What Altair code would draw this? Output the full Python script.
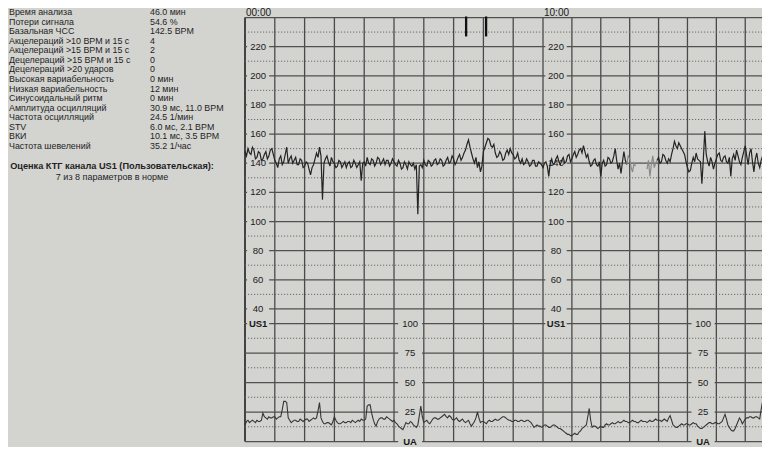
import altair as alt
import pandas as pd

BG = "#d3d3d0"
FONT = "Liberation Sans"
INK = "#242424"

# ---------------- text block (left) ----------------
param_labels = [
    "Время анализа", "Потери сигнала", "Базальная ЧСС",
    "Акцелераций >10 BPM и 15 с", "Акцелераций >15 BPM и 15 с",
    "Децелераций >15 BPM и 15 с", "Децелераций >20 ударов",
    "Высокая вариабельность", "Низкая вариабельность", "Синусоидальный ритм",
    "Амплитуда осцилляций", "Частота осцилляций", "STV", "ВКИ", "Частота шевелений",
]
param_values = [
    "46.0 мин", "54.6 %", "142.5 BPM", "4", "2", "0", "0", "0 мин", "12 мин",
    "0 мин", "30.9 мс, 11.0 BPM", "24.5 1/мин", "6.0 мс, 2.1 BPM",
    "10.1 мс, 3.5 BPM", "35.2 1/час",
]
summary_title = "Оценка КТГ канала US1 (Пользовательская):"
summary_line = "7 из 8 параметров в норме"

# ---------------- strip layout values ----------------
time_labels = ["00:00", "10:00"]
time_label_min = [0, 10]
minute_lines = list(range(0, 18))
strip_start, strip_end = 0, 17.58

fhr_top, fhr_bottom = 240, 30
fhr_major = [220, 200, 180, 160, 140, 120, 100, 80, 60, 40]
fhr_minor = [230, 210, 190, 170, 150, 130, 110, 90, 70, 50]
ua_top, ua_bottom = 100, 0
ua_major = [75, 50, 25]
ua_minor = [87.5, 62.5, 37.5, 12.5]
ua_label_vals = [100, 75, 50, 25]

fhr_label_min = [0.44, 10.45]
ua_label_min = [5.54, 15.54]
event_min = [7.42, 8.09]

# ---------------- traces (read every 0.1 min, plus the swing between samples) ----------------
sample_step = 0.1
fhr_values = [
    148, 150, 146, 149, 144, 147, 143, 148, 145, 150,
    142, 137, 145, 141, 151, 143, 140, 144, 139, 142,
    138, 140, 132, 139, 147, 151, 115, 143, 141, 144,
    140, 138, 141, 139, 137, 141, 138, 140, 139, 128,
    141, 144, 139, 142, 140, 143, 141, 139, 142, 140,
    141, 138, 140, 137, 139, 141, 138, 136, 105, 139,
    142, 138, 141, 139, 143, 140, 142, 139, 144, 141,
    143, 141, 146, 144, 149, 156, 147, 140, 137, 134,
    148, 154, 156, 151, 147, 145, 146, 143, 149, 150,
    146, 144, 142, 143, 140, 141, 139, 142, 138, 140,
    137, 141, 131, 143, 140, 145, 139, 144, 141, 146,
    143, 148, 146, 150, 152, 144, 141, 139, 143, 138,
    131, 142, 139, 143, 141, 150, 136, 133, 148, 139,
    143, 134, 138, None, None, None, 136, 131, 145, 140,
    144, 141, 145, 140, 141, 150, 152, 154, 150, 146,
    137, 135, 144, 147, 142, 126, 162, 141, 144, 136,
    143, 147, 141, 145, 140, 131, 146, 149, 141, 144,
    152, 139, 150, 134, 147, 137, 145,
]
fhr_between = [
    145, 147, 151, 143, 148, 142, 146, 143, 149, 146,
    140, 143, 139, 146, 140, 145, 142, 139, 143, 137,
    141, 136, 137, 143, 144, 145, 140, 145, 138, 141,
    137, 142, 137, 141, 140, 137, 142, 137, 141, 140,
    138, 140, 143, 138, 144, 139, 143, 142, 138, 143,
    139, 142, 136, 141, 136, 139, 140, 139, 138, 137,
    139, 142, 138, 142, 139, 143, 138, 142, 140, 145,
    139, 144, 142, 147, 153, 151, 143, 144, 141, 138,
    151, 157, 152, 153, 144, 148, 142, 147, 146, 147,
    143, 147, 140, 139, 143, 138, 142, 138, 141, 139,
    140, 138, 140, 139, 143, 141, 142, 140, 145, 141,
    146, 144, 149, 147, 148, 146, 138, 142, 139, 141,
    140, 138, 144, 140, 145, 142, 140, 141, 142, 145,
    137, 140, None, None, None, None, 142, 139, 137, 142,
    140, 146, 142, 143, 146, 155, 150, 152, 148, 141,
    134, 140, 141, 143, 141, 143, 146, 138, 141, 140,
    146, 142, 144, 141, 144, 143, 142, 145, 139, 148,
    145, 147, 141, 143, 140, 142,
]
fhr_light_spans = [(12.95, 13.25), (13.55, 13.95)]

ua_values = [
    14, 18, 17, 17, 18, 17, 24, 20, 21, 20,
    21, 20, 21, 34, 33, 18, 17, 18, 17, 18,
    18, 19, 18, 20, 20, 33, 17, 15, 16, 14,
    21, 16, 15, 17, 16, 17, 18, 16, 18, 19,
    18, 30, 31, 19, 13, 19, 20, 19, 20, 18,
    18, 15, 12, 10, 16, 15, 16, 13, 14, 30,
    16, 18, 15, 19, 20, 19, 21, 23, 20, 21,
    18, 20, 17, 19, 16, 18, 13, 17, 25, 16,
    17, 15, 18, 17, 19, 18, 20, 21, 19, 18,
    17, 18, 17, 18, 17, 18, 16, 12, 14, 13,
    13, 14, 12, 13, 14, 12, 11, 9, 7, 6,
    5, 7, 6, 9, 12, 14, 28, 12, 13, 11,
    13, 12, 15, 14, 16, 15, 17, 16, 18, 17,
    16, 18, 17, 16, 18, 17, 16, 18, 17, 19,
    18, 17, 19, 17, 22, 14, 12, 13, 15, 14,
    15, 14, 16, 15, 12, 11, 13, 15, 16, 15,
    16, 15, 17, 23, 14, 10, 9, 14, 20, 15,
    19, 20, 21, 20, 21, 19, 34,
]
ua_between = [
    17, 16, 18, 16, 17, 18, 21, 19, 20, 21,
    19, 21, 27, 34, 20, 16, 18, 17, 19, 17,
    19, 17, 19, 19, 26, 20, 15, 16, 15, 17,
    18, 15, 16, 16, 17, 16, 17, 17, 17, 18,
    19, 31, 24, 15, 17, 20, 19, 21, 19, 17,
    16, 13, 11, 13, 15, 17, 14, 12, 22, 21,
    17, 16, 17, 20, 19, 20, 22, 21, 22, 19,
    19, 18, 18, 17, 17, 15, 15, 20, 20, 17,
    16, 17, 17, 18, 18, 19, 21, 20, 18, 17,
    18, 17, 18, 17, 18, 17, 14, 13, 13, 12,
    14, 13, 12, 14, 13, 11, 10, 8, 6, 5,
    6, 6, 8, 11, 13, 21, 18, 13, 12, 12,
    12, 14, 14, 15, 15, 16, 16, 17, 17, 16,
    17, 17, 16, 17, 17, 17, 17, 17, 18, 18,
    18, 18, 18, 20, 18, 13, 12, 14, 14, 15,
    14, 15, 15, 13, 11, 12, 14, 16, 15, 16,
    15, 16, 20, 19, 12, 9, 11, 17, 18, 17,
    20, 21, 20, 21, 20, 27,
]

# ---------------- build tables ----------------
def merge(values, between):
    pts = []
    for i, v in enumerate(values):
        t = round(i * sample_step, 3)
        pts.append((t, v))
        if i < len(between):
            pts.append((round(t + sample_step / 2, 3), between[i]))
    return pts


def trace_rows(pts, light_spans):
    rows, seg, prev = [], 0, None
    for t, v in pts:
        if v is None:
            prev = None
            seg += 1
            continue
        tone = "light" if any(a <= t <= b for a, b in light_spans) else "dark"
        if prev is not None and prev[2] != tone:
            seg += 1
            rows.append(dict(t=prev[0], v=prev[1], tone=tone, seg=seg))
        rows.append(dict(t=t, v=v, tone=tone, seg=seg))
        prev = (t, v, tone)
    return pd.DataFrame(rows)


fhr_df = trace_rows(merge(fhr_values, fhr_between), fhr_light_spans)
ua_df = trace_rows(merge(ua_values, ua_between), [])

xs = alt.Scale(domain=[-7.953, 0, 10, 17.58], range=[0, 237, 535, 754], nice=False, zero=False)
fhr_scale = alt.Scale(domain=[fhr_bottom, fhr_top], range=[315.5, 9.5], nice=False, zero=False)
ua_scale = alt.Scale(domain=[ua_bottom, ua_top], range=[433.5, 315.5], nice=False, zero=False)


def X(f):
    return alt.X(f, type="quantitative", scale=xs, axis=None)


def YF(f):
    return alt.Y(f, type="quantitative", scale=fhr_scale, axis=None)


def YU(f):
    return alt.Y(f, type="quantitative", scale=ua_scale, axis=None)


layers = []

# vertical minute lines
vf = pd.DataFrame({"m": minute_lines[1:], "top": fhr_top, "bot": fhr_bottom})
vu = pd.DataFrame({"m": minute_lines[1:], "top": ua_top, "bot": ua_bottom})
layers.append(alt.Chart(vf).mark_rule(color="#4a4a4a", strokeWidth=1.3).encode(x=X("m"), y=YF("top"), y2="bot"))
layers.append(alt.Chart(vu).mark_rule(color="#4a4a4a", strokeWidth=1.3).encode(x=X("m"), y=YU("top"), y2="bot"))
bf = pd.DataFrame({"m": [minute_lines[0]], "top": [fhr_top], "bot": [fhr_bottom]})
bu = pd.DataFrame({"m": [minute_lines[0]], "top": [ua_top], "bot": [ua_bottom]})
layers.append(alt.Chart(bf).mark_rule(color="#333333", strokeWidth=1.8).encode(x=X("m"), y=YF("top"), y2="bot"))
layers.append(alt.Chart(bu).mark_rule(color="#333333", strokeWidth=1.8).encode(x=X("m"), y=YU("top"), y2="bot"))

# horizontal lines
hf = pd.DataFrame({"v": [fhr_top] + fhr_major + [fhr_bottom], "a": strip_start, "b": strip_end})
hfm = pd.DataFrame({"v": fhr_minor, "a": strip_start, "b": strip_end})
hu = pd.DataFrame({"v": ua_major + [ua_bottom], "a": strip_start, "b": strip_end})
hum = pd.DataFrame({"v": ua_minor, "a": strip_start, "b": strip_end})
layers.append(alt.Chart(hf).mark_rule(color="#505050", strokeWidth=1.25).encode(y=YF("v"), x=X("a"), x2="b"))
layers.append(alt.Chart(hfm).mark_rule(color="#6a6a6a", strokeWidth=1, strokeDash=[1.2, 1.8]).encode(y=YF("v"), x=X("a"), x2="b"))
layers.append(alt.Chart(hu).mark_rule(color="#505050", strokeWidth=1.25).encode(y=YU("v"), x=X("a"), x2="b"))
layers.append(alt.Chart(hum).mark_rule(color="#6a6a6a", strokeWidth=1, strokeDash=[1.2, 1.8]).encode(y=YU("v"), x=X("a"), x2="b"))

# label masks (gaps in the lines behind the scale labels)
fl = pd.DataFrame([dict(m=m, v=v, txt=str(v)) for m in fhr_label_min for v in fhr_major])
fl_us = pd.DataFrame([dict(m=m, v=fhr_bottom, txt="US1") for m in fhr_label_min])
ul = pd.DataFrame([dict(m=m, v=v, txt=str(v)) for m in ua_label_min for v in ua_label_vals])
ul_ua = pd.DataFrame([dict(m=m, v=ua_bottom, txt="UA") for m in ua_label_min])
fmask = pd.concat([fl, fl_us])
umask = pd.concat([ul, ul_ua])
layers.append(
    alt.Chart(fmask).transform_calculate(a="datum.m-0.37", b="datum.m+0.37", lo="datum.v-3.6", hi="datum.v+3.6")
    .mark_rect(color=BG).encode(x=X("a:Q"), x2="b:Q", y=YF("lo:Q"), y2="hi:Q")
)
layers.append(
    alt.Chart(umask).transform_calculate(a="datum.m-0.4", b="datum.m+0.4", lo="datum.v-4.3", hi="datum.v+4.3")
    .mark_rect(color=BG).encode(x=X("a:Q"), x2="b:Q", y=YU("lo:Q"), y2="hi:Q")
)

# scale labels
lab = dict(font=FONT, fontSize=9.5, color="#1a1a1a", align="center", baseline="middle")
layers.append(alt.Chart(fl).mark_text(**lab).encode(x=X("m"), y=YF("v"), text="txt:N"))
layers.append(alt.Chart(fl_us).mark_text(**lab, fontWeight="bold").encode(x=X("m"), y=YF("v"), text="txt:N"))
layers.append(alt.Chart(ul).mark_text(**lab).encode(x=X("m"), y=YU("v"), text="txt:N"))
layers.append(alt.Chart(ul_ua).mark_text(**lab, fontWeight="bold").encode(x=X("m"), y=YU("v"), text="txt:N"))

tone_scale = alt.Scale(domain=["dark", "light"], range=[INK, "#8a8a8a"])
# traces
layers.append(
    alt.Chart(fhr_df).mark_line(strokeWidth=1.2, clip=True).encode(
        x=X("t"), y=YF("v"), detail="seg:N", order="t:Q",
        color=alt.Color("tone:N", scale=tone_scale, legend=None),
    )
)
layers.append(
    alt.Chart(ua_df).mark_line(strokeWidth=1.1, clip=True, color="#363636").encode(
        x=X("t"), y=YU("v"), detail="seg:N", order="t:Q",
    )
)

# event marks
ev = pd.DataFrame({"m": event_min, "top": 240.7, "bot": 227})
layers.append(alt.Chart(ev).mark_rule(color="#111111", strokeWidth=2.3).encode(x=X("m"), y=YF("top"), y2="bot"))

# time labels
tl = pd.DataFrame({"m": time_label_min, "txt": time_labels, "v": fhr_top})
layers.append(
    alt.Chart(tl).mark_text(font=FONT, fontSize=10, color="#1a1a1a", align="left", baseline="alphabetic", dx=1, dy=-1.5)
    .encode(x=X("m"), y=YF("v"), text="txt:N")
)

# left text block
pt = pd.DataFrame({"row": list(range(len(param_labels))), "label": param_labels, "value": param_values})
row_scale = alt.Scale(domain=[0, 14], range=[4, 138], nice=False, zero=False)
txt = dict(font=FONT, fontSize=8.9, color="#1f1f1f", align="left", baseline="middle")
layers.append(alt.Chart(pt).mark_text(**txt).encode(x=alt.value(1), y=alt.Y("row:Q", scale=row_scale, axis=None), text="label:N"))
layers.append(alt.Chart(pt).mark_text(**txt).encode(x=alt.value(142), y=alt.Y("row:Q", scale=row_scale, axis=None), text="value:N"))
layers.append(
    alt.Chart(pd.DataFrame({"s": [summary_title]})).mark_text(font=FONT, fontSize=9.2, fontWeight="bold", color="#1f1f1f", align="center", baseline="middle")
    .encode(x=alt.value(104), y=alt.value(158), text="s:N")
)
layers.append(
    alt.Chart(pd.DataFrame({"s": [summary_line]})).mark_text(font=FONT, fontSize=9, color="#1f1f1f", align="center", baseline="middle")
    .encode(x=alt.value(104), y=alt.value(169), text="s:N")
)

chart = (
    alt.layer(*layers)
    .resolve_scale(y="independent")
    .properties(width=754, height=439, padding=0, autosize=alt.AutoSizeParams(type="none"), background=BG)
    .configure_view(stroke=None)
)

chart.save("out.html", embed_options={"renderer": "svg", "actions": False})
